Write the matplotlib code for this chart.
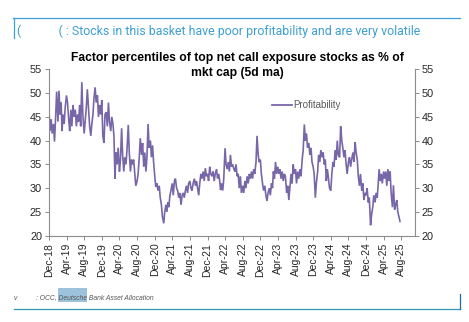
import matplotlib
matplotlib.use("Agg")
import matplotlib.pyplot as plt
import matplotlib.dates as mdates
from matplotlib.patches import Rectangle
from matplotlib.lines import Line2D
import pandas as pd

# Profitability factor percentile (5d ma), four readings per month, Dec-18 .. Jul-25
months = pd.date_range("2018-12-01", "2025-07-01", freq="MS")
days_in_month = [0, 7, 15, 22]
profitability = [
    46.5, 42.0, 44.5, 41.5,   # Dec-18
    43.5, 39.8, 45.0, 50.3,   # Jan-19
    44.0, 50.5, 45.5, 48.0,
    42.0, 45.5, 43.5, 47.0,
    49.5, 48.0, 44.5, 42.0,
    46.5, 43.0, 47.5, 45.0,
    46.5, 43.0, 45.5, 44.0,
    47.5, 43.0, 52.3, 45.5,
    41.5, 44.0, 47.0, 50.8,
    46.5, 43.0, 41.0, 43.5,
    45.5, 49.0, 51.2, 48.0,
    49.5, 45.0, 47.5, 45.5,
    48.5, 41.0, 39.5, 45.5,   # Dec-19
    46.0, 43.0, 48.0, 44.0,
    42.0, 45.0, 43.5, 41.0,
    32.0, 37.5, 35.0, 38.5,
    33.5, 36.0, 42.6, 37.0,
    33.5, 36.5, 35.0, 38.0,
    43.3, 37.5, 33.5, 36.0,
    35.0, 36.0, 33.0, 30.5,
    31.5, 33.0, 36.5, 40.5,
    37.0, 39.5, 34.5, 37.5,
    33.5, 36.5, 43.5, 38.5,
    40.0, 36.5, 39.0, 35.5,
    32.5, 30.3, 31.0, 29.5,   # Dec-20
    30.5, 28.0, 26.5, 24.0,
    22.6, 25.0, 26.5, 25.0,
    27.0, 26.0, 28.5, 29.5,
    31.0, 28.5, 31.5, 32.0,
    30.0, 29.5, 28.0, 29.0,
    26.5, 28.5, 29.0, 28.0,
    29.5, 30.5, 29.0, 31.0,
    31.5, 30.0, 29.5, 31.0,
    32.0, 30.5, 31.5, 30.0,
    28.5, 31.0, 33.0, 32.0,
    33.5, 31.5, 34.2, 32.5,
    33.0, 31.5, 34.5, 33.0,   # Dec-21
    32.5, 33.5, 31.5, 33.0,
    34.0, 32.0, 33.0, 31.5,
    29.6, 31.0, 29.5, 32.0,
    38.4, 35.0, 34.0, 35.5,
    33.5, 37.0, 34.5, 35.0,
    34.0, 33.5, 35.0, 32.5,
    33.0, 30.0, 32.5, 29.0,
    30.5, 29.0, 31.5, 30.0,
    32.5, 31.0, 33.0, 32.0,
    33.5, 32.0, 34.0, 33.0,
    35.5, 41.0, 37.0, 35.5,
    36.0, 33.0, 31.0, 29.5,   # Dec-22
    30.5, 28.5, 27.3, 29.0,
    30.0, 28.5, 31.0, 30.0,
    33.5, 32.0, 35.5, 33.0,
    34.5, 33.0, 34.0, 32.0,
    33.5, 31.5, 33.0, 32.5,
    29.0, 30.5, 27.5, 30.0,
    33.0, 31.0, 35.0, 33.0,
    34.0, 31.0, 33.5, 32.0,
    34.0, 32.5, 36.0, 38.0,
    43.4, 40.0, 41.5, 38.5,
    39.5, 37.0, 38.5, 35.5,
    34.5, 33.0, 28.0, 31.0,   # Dec-23
    33.5, 37.0, 35.5, 38.0,
    36.5, 37.5, 35.0, 36.0,
    31.5, 34.0, 32.0, 30.0,
    29.5, 33.0, 35.5, 34.5,
    38.0, 36.0, 40.0, 37.0,
    36.5, 43.0, 40.0, 38.5,
    36.5, 38.0, 35.0, 33.0,
    35.5, 36.5, 34.5, 36.0,
    37.5, 35.5, 39.7, 37.5,
    36.0, 32.5, 30.5, 33.0,
    29.5, 31.0, 27.5, 29.0,
    28.5, 30.0, 27.0, 28.0,   # Dec-24
    22.2, 24.5, 26.0, 28.5,
    27.0, 29.0, 28.0, 31.0,
    34.0, 31.5, 33.0, 31.0,
    33.5, 32.0, 33.5, 30.5,
    34.0, 31.5, 33.5, 29.0,
    26.0, 30.6, 25.5, 26.5,
    27.5, 25.0, 24.0, 23.0,   # Jul-25
]
dates = [m + pd.Timedelta(days=d) for m in months for d in days_in_month]

title_text = "Factor percentiles of top net call exposure stocks as % of\nmkt cap (5d ma)"
header_text = "(            ( : Stocks in this basket have poor profitability and are very volatile"
series_name = "Profitability"
y_ticks = [20, 25, 30, 35, 40, 45, 50, 55]

LINE = "#7867a8"
AXIS = "#8c8c8c"
TEXT = "#262626"
SANS = ["Liberation Sans", "DejaVu Sans"]

W, H = 469, 322
fig = plt.figure(figsize=(W / 100, H / 100), dpi=100)
fig.patch.set_facecolor("white")

ax = fig.add_axes([49 / W, 1 - 235.7 / H, (415 - 49) / W, (235.7 - 69.3) / H])
ax.plot(dates, profitability, color=LINE, lw=1.2, solid_joinstyle="miter")

ax.set_ylim(20, 55)
ax.set_yticks(y_ticks)
ax.set_xlim(pd.Timestamp("2018-12-01"), pd.Timestamp("2025-11-04"))
ax.xaxis.set_major_locator(mdates.MonthLocator(bymonth=[4, 8, 12]))
ax.xaxis.set_major_formatter(mdates.DateFormatter("%b-%y"))

for s in ("left", "right", "bottom"):
    ax.spines[s].set_color(AXIS)
    ax.spines[s].set_linewidth(0.8)
ax.spines["top"].set_visible(False)
ax.tick_params(axis="y", which="both", left=True, right=True, labelleft=True,
               labelright=True, direction="out", length=3, width=0.7,
               color=AXIS, labelsize=7.8, labelcolor=TEXT, pad=2)
ax.tick_params(axis="x", direction="out", length=3, width=0.7, color=AXIS,
               labelsize=7.5, labelcolor=TEXT, labelrotation=90, pad=2)
for lbl in ax.get_xticklabels() + ax.get_yticklabels():
    lbl.set_family(SANS)
for lbl in ax.yaxis.get_ticklabels(which="both"):
    lbl.set_family(SANS)
for t in ax.yaxis.get_major_ticks():
    t.label2.set_family(SANS)

# title
fig.text(237 / W, 1 - 65.5 / H, title_text, ha="center", va="center",
         fontsize=8.7, fontweight="bold", linespacing=1.25, color="#000000",
         family=SANS)

# legend entry
fig.add_artist(Line2D([272 / W, 292 / W], [1 - 105 / H] * 2, color=LINE, lw=1.3))
fig.text(293 / W, 1 - 105 / H, series_name, ha="left", va="center",
         fontsize=7, color="#595959", family=SANS)

# header band
HEAD = "#3d9fd3"
fig.add_artist(Line2D([13 / W, 460 / W], [1 - 18 / H] * 2, color=HEAD, lw=0.9))
fig.add_artist(Line2D([13.5 / W, 13.5 / W], [1 - 18 / H, 1 - 38 / H], color=HEAD, lw=0.9))
fig.text(17 / W, 1 - 31 / H, header_text, ha="left", va="center", fontsize=8.9,
         color=HEAD, family=["Roboto", "Liberation Sans", "DejaVu Sans"])

# source footer
FOOT = "#2a9bb0"
fig.add_artist(Line2D([14 / W, 460 / W], [1 - 309 / H] * 2, color=FOOT, lw=0.9))
fig.add_artist(Line2D([460 / W, 460 / W], [1 - 294 / H, 1 - 309 / H], color="#1f6f9a", lw=0.9))
fig.add_artist(Rectangle((58 / W, 1 - 302 / H), 29 / W, 14.5 / H,
                         facecolor="#9dc3dc", edgecolor="none"))
fig.text(14 / W, 1 - 298 / H, "v", ha="left", va="center", fontsize=4.8,
         style="italic", color="#555555", family=SANS)
fig.text(36 / W, 1 - 298 / H, ": OCC, Deutsche Bank Asset Allocation", ha="left",
         va="center", fontsize=4.9, style="italic", color="#555555", family=SANS)

fig.savefig("out.png", dpi=100, facecolor="white")
